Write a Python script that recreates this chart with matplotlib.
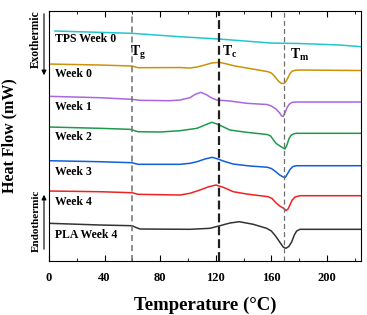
import matplotlib

matplotlib.use("Agg")
import matplotlib.pyplot as plt  # noqa: E402
from matplotlib.ticker import MultipleLocator  # noqa: E402

plt.rcParams.update({
    "font.family": "Liberation Serif", "font.weight": "bold",
    "mathtext.fontset": "custom", "mathtext.rm": "Liberation Serif:bold",
    "mathtext.it": "Liberation Serif:bold", "mathtext.bf": "Liberation Serif:bold",
})

# DSC traces: temperature (°C) and offset heat flow (mW)
TPS0_T = [4.3, 59.7, 94.2, 122.3, 159.7, 180.6, 209.4, 224.5]
TPS0_H = [23.0, 22.77, 22.43, 22.2, 21.8, 21.75, 21.6, 21.43]

W0_T = [0, 36.7, 59.7, 64, 94.2, 101.4, 106.5, 112, 117, 122.3, 126.6, 133.8, 142.4,
        157.6, 160, 162.5, 165, 167, 169.1, 170.5, 172, 173.4, 175, 177, 180.6, 224.5]
W0_H = [19.7, 19.6, 19.5, 19.33, 19.35, 19.3, 19.4, 19.6, 19.8, 19.87, 19.75, 19.5, 19.3,
        18.93, 18.8, 18.45, 18.0, 17.77, 17.75, 17.95, 18.35, 18.75, 18.98, 19.07, 19.1, 19.05]

W1_T = [0, 36.7, 59.7, 65.5, 87, 94.2, 101.4, 105, 109.1, 113, 116.5, 120.6, 130.2,
        142.4, 157, 160, 163.3, 166, 167.4, 168.5, 170, 171.5, 173, 174.6, 177, 180.6, 224.5]
W1_H = [16.47, 16.33, 16.17, 16.07, 16.03, 16.1, 16.33, 16.65, 16.87, 16.65, 16.35, 16.1, 16.0,
        15.77, 15.65, 15.5, 15.2, 14.8, 14.5, 14.45, 14.9, 15.4, 15.7, 15.85, 15.9, 15.9, 15.9]

W2_T = [0, 36.7, 58.3, 64, 79.9, 94.2, 106.5, 112.2, 117, 120.9, 125.2, 130.2, 142.2,
        157, 159.5, 161.5, 163.5, 166.2, 168.5, 169.8, 171.2, 172.6, 174, 176, 178, 224.5]
W2_H = [13.4, 13.27, 13.17, 12.93, 12.9, 13.03, 13.27, 13.6, 13.87, 13.7, 13.43, 13.1, 12.87,
        12.65, 12.5, 12.1, 11.75, 11.5, 11.3, 11.2, 11.6, 12.2, 12.55, 12.72, 12.77, 12.77]

W3_T = [0, 36.7, 59.7, 64, 94.2, 101.4, 106.5, 112.2, 117.5, 121.6, 125.4, 132.4, 144.6,
        157, 160, 163, 166, 168.5, 170, 171.5, 173.4, 175.5, 178.2, 224.5]
W3_H = [10.03, 9.93, 9.83, 9.67, 9.67, 9.77, 9.93, 10.2, 10.37, 10.2, 10.0, 9.7, 9.5,
        9.38, 9.25, 8.95, 8.6, 8.4, 8.35, 8.7, 9.15, 9.45, 9.53, 9.53]

W4_T = [0, 36.7, 59.7, 64, 94.2, 101.4, 108.6, 114.4, 120.1, 125.4, 132.6, 142.2,
        157.8, 160.5, 163, 166, 168.5, 170.5, 172, 173.5, 175, 177, 180.6, 224.5]
W4_H = [7.0, 6.93, 6.83, 6.67, 6.6, 6.77, 7.1, 7.4, 7.6, 7.37, 6.93, 6.7,
        6.43, 6.25, 5.85, 5.5, 5.3, 5.05, 5.2, 5.65, 6.1, 6.4, 6.53, 6.53]

PLA4_T = [0, 36.7, 59.7, 62.6, 65.5, 101.4, 115.8, 123, 130.2, 136.9, 147, 156.6,
          160, 163, 166, 168.5, 170.5, 172.5, 174.6, 176.5, 178.2, 180.6, 224.5]
PLA4_H = [3.77, 3.6, 3.53, 3.35, 3.2, 3.17, 3.27, 3.53, 3.8, 3.93, 3.67, 3.27,
          3.0, 2.5, 1.9, 1.4, 1.27, 1.45, 1.9, 2.6, 3.0, 3.17, 3.17]

SERIES = [
    ("TPS Week 0", TPS0_T, TPS0_H, "#22c6cf", 22.2),
    ("Week 0", W0_T, W0_H, "#cc9208", 18.7),
    ("Week 1", W1_T, W1_H, "#aa66e0", 15.4),
    ("Week 2", W2_T, W2_H, "#1f9a4c", 12.4),
    ("Week 3", W3_T, W3_H, "#0f5fdc", 8.9),
    ("Week 4", W4_T, W4_H, "#ee2222", 5.9),
    ("PLA Week 4", PLA4_T, PLA4_H, "#333333", 2.6),
]

TG, TC, TM = 60, 122.3, 169

fig = plt.figure(figsize=(3.67, 3.15), dpi=100)
ax = fig.add_axes([0.1335, 0.1714, 0.8502, 0.7936])

for name, t, h, c, ly in SERIES:
    ax.plot(t, h, color=c, lw=1.1)
    ax.text(4, ly, name, fontsize=8.5, fontweight="bold", va="center", ha="left")

ax.axvline(TG, color="#707070", ls=(0, (4, 2.5)), lw=1.1)
ax.axvline(TC, color="#202020", ls=(0, (4, 1.8)), lw=1.6)
ax.axvline(TM, color="#707070", ls=(0, (4, 2.5)), lw=0.9)
ax.text(58.3, 20.85, r"T$_{\mathrm{g}}$", fontsize=10, va="center")
ax.text(124.5, 20.9, r"T$_{\mathrm{c}}$", fontsize=10, va="center")
ax.text(173.5, 20.6, r"T$_{\mathrm{m}}$", fontsize=10, va="center")

ax.set_xlim(0, 224.5)
ax.set_ylim(0, 25)
ax.set_yticks([])
ax.xaxis.set_major_locator(MultipleLocator(40))
ax.xaxis.set_minor_locator(MultipleLocator(20))
ax.tick_params(axis="x", which="both", direction="in", top=True, labelsize=9, pad=8)
ax.tick_params(axis="x", which="major", length=4)
ax.tick_params(axis="x", which="minor", length=2.5)
for lab in ax.get_xticklabels():
    lab.set_fontweight("bold")
ax.set_xlabel("Temperature (°C)", fontsize=13.5, fontweight="bold", labelpad=9)
ax.set_ylabel("Heat Flow (mW)", fontsize=11.5, fontweight="bold", labelpad=23)

ax.annotate("", xy=(-0.016, 0.732), xytext=(-0.016, 1.0), xycoords="axes fraction",
            arrowprops=dict(arrowstyle="-|>", color="black", lw=0.8, mutation_scale=7),
            annotation_clip=False)
ax.annotate("", xy=(-0.016, 0.276), xytext=(-0.016, 0.036), xycoords="axes fraction",
            arrowprops=dict(arrowstyle="-|>", color="black", lw=0.8, mutation_scale=7),
            annotation_clip=False)
ax.text(-0.042, 0.888, "Exothermic", transform=ax.transAxes, rotation=90, fontsize=8.3,
        fontweight="bold", ha="center", va="center")
ax.text(-0.042, 0.16, "Endothermic", transform=ax.transAxes, rotation=90, fontsize=8,
        fontweight="bold", ha="center", va="center")

fig.savefig("out.png", dpi=100)
